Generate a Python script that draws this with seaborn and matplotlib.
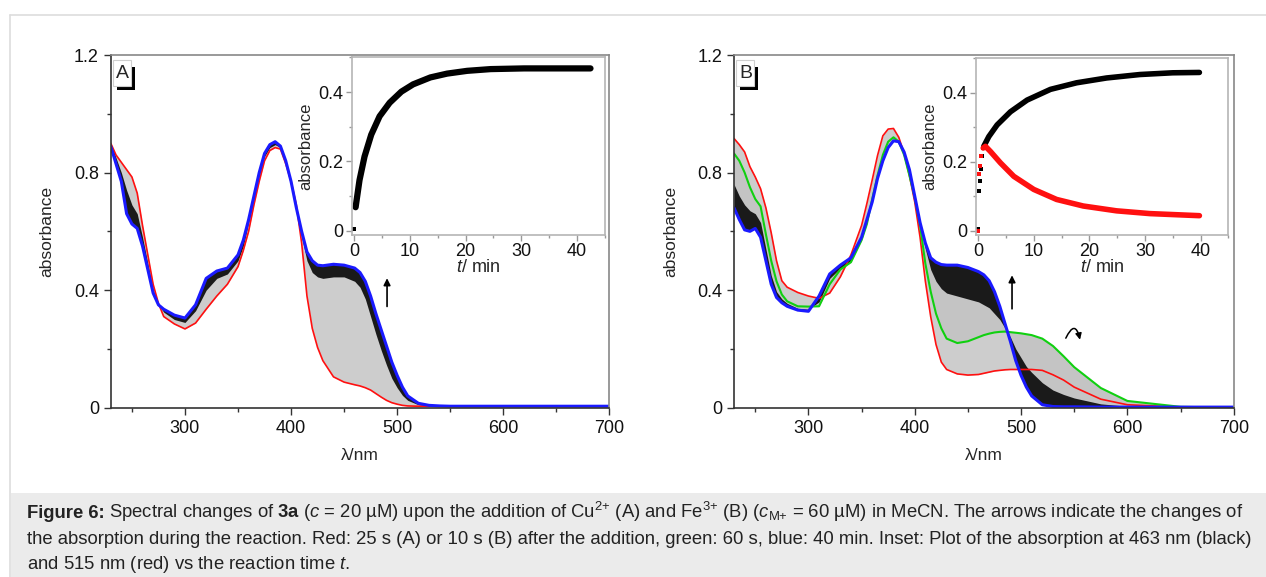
import matplotlib
matplotlib.use("Agg")
import matplotlib.pyplot as plt
from matplotlib.ticker import MultipleLocator, FuncFormatter
from matplotlib.patches import Rectangle
from matplotlib.lines import Line2D
import seaborn as sns

# wavelength grid (nm) shared by all spectra
wl = [230, 235, 240, 245, 250, 255, 260, 265, 270, 275, 280, 290, 300, 310, 320, 330, 340, 350,
      355, 360, 365, 370, 375, 380, 385, 390, 395, 400, 405, 410, 415, 420, 425, 430,
      440, 450, 460, 465, 470, 475, 480, 485, 490, 495, 500, 505, 510,
      520, 530, 540, 550, 575, 600, 650, 700]

# panel A (Cu2+): red = 25 s, blue = 40 min, edge = border of the dense family
red_a = [0.90, 0.86, 0.835, 0.81, 0.785, 0.73, 0.62, 0.52, 0.42, 0.355, 0.31, 0.285, 0.268, 0.288, 0.335, 0.38, 0.42, 0.48,
         0.535, 0.60, 0.69, 0.77, 0.84, 0.875, 0.885, 0.88, 0.83, 0.77, 0.69, 0.56, 0.38, 0.27, 0.205, 0.16,
         0.105, 0.087, 0.078, 0.074, 0.068, 0.06, 0.048, 0.036, 0.025, 0.017, 0.012, 0.008, 0.006,
         0.005, 0.005, 0.005, 0.005, 0.005, 0.005, 0.005, 0.005]
blue_a = [0.89, 0.83, 0.77, 0.66, 0.625, 0.61, 0.55, 0.47, 0.39, 0.35, 0.335, 0.315, 0.305, 0.35, 0.44, 0.465, 0.475, 0.52,
          0.57, 0.64, 0.72, 0.80, 0.865, 0.895, 0.905, 0.89, 0.84, 0.77, 0.68, 0.60, 0.53, 0.50, 0.485, 0.483,
          0.488, 0.485, 0.475, 0.46, 0.43, 0.38, 0.32, 0.265, 0.21, 0.155, 0.11, 0.07, 0.04,
          0.015, 0.008, 0.006, 0.005, 0.005, 0.005, 0.005, 0.005]
edge_a = [0.90, 0.85, 0.80, 0.74, 0.69, 0.66, 0.58, 0.49, 0.40, 0.35, 0.325, 0.30, 0.29, 0.33, 0.40, 0.44, 0.455, 0.50,
          0.55, 0.63, 0.71, 0.79, 0.855, 0.885, 0.895, 0.885, 0.835, 0.77, 0.68, 0.58, 0.50, 0.46, 0.445, 0.44,
          0.445, 0.445, 0.43, 0.41, 0.37, 0.31, 0.25, 0.195, 0.145, 0.10, 0.068, 0.042, 0.025,
          0.01, 0.006, 0.005, 0.005, 0.005, 0.005, 0.005, 0.005]

# panel B (Fe3+): red = 10 s, green = 60 s, blue = 40 min
red_b = [0.916, 0.895, 0.87, 0.82, 0.785, 0.745, 0.68, 0.595, 0.50, 0.432, 0.41, 0.392, 0.38, 0.372, 0.39, 0.445, 0.52, 0.62,
         0.695, 0.775, 0.858, 0.925, 0.948, 0.95, 0.92, 0.865, 0.79, 0.70, 0.58, 0.43, 0.31, 0.215, 0.155, 0.13,
         0.115, 0.111, 0.113, 0.117, 0.121, 0.125, 0.127, 0.129, 0.13, 0.13, 0.13, 0.13, 0.13,
         0.127, 0.112, 0.094, 0.07, 0.029, 0.01, 0.002, 0.0]
green_b = [0.865, 0.84, 0.80, 0.75, 0.71, 0.685, 0.59, 0.50, 0.43, 0.385, 0.362, 0.345, 0.344, 0.345, 0.42, 0.47, 0.495, 0.57,
           0.625, 0.71, 0.79, 0.86, 0.905, 0.92, 0.905, 0.86, 0.79, 0.715, 0.62, 0.49, 0.395, 0.32, 0.27, 0.235,
           0.22, 0.226, 0.24, 0.247, 0.252, 0.256, 0.258, 0.259, 0.257, 0.255, 0.253, 0.25, 0.247,
           0.235, 0.21, 0.175, 0.138, 0.067, 0.023, 0.003, 0.0]
blue_b = [0.68, 0.64, 0.605, 0.60, 0.61, 0.58, 0.50, 0.42, 0.375, 0.357, 0.345, 0.332, 0.328, 0.38, 0.455, 0.485, 0.51, 0.58,
          0.64, 0.70, 0.78, 0.84, 0.885, 0.908, 0.905, 0.87, 0.81, 0.72, 0.63, 0.56, 0.51, 0.495, 0.487, 0.485,
          0.485, 0.477, 0.463, 0.452, 0.432, 0.395, 0.345, 0.285, 0.225, 0.16, 0.11, 0.07, 0.04,
          0.01, 0.004, 0.003, 0.003, 0.002, 0.002, 0.002, 0.002]
edge_b = [0.76, 0.72, 0.69, 0.67, 0.66, 0.63, 0.54, 0.45, 0.395, 0.37, 0.355, 0.338, 0.335, 0.36, 0.44, 0.475, 0.50, 0.575,
          0.635, 0.705, 0.785, 0.85, 0.895, 0.912, 0.905, 0.865, 0.80, 0.715, 0.625, 0.54, 0.47, 0.43, 0.405, 0.39,
          0.38, 0.37, 0.36, 0.35, 0.34, 0.32, 0.30, 0.27, 0.24, 0.20, 0.17, 0.14, 0.12,
          0.085, 0.06, 0.045, 0.033, 0.013, 0.005, 0.002, 0.002]

# insets: absorbance vs time (min)
t_a = [0.0, 0.3, 1.0, 1.9, 3.1, 4.6, 6.4, 8.5, 10.6, 13.7, 16.7, 20.3, 24.5, 30.5, 36.5, 42.4]
abs463_a = [0.005, 0.068, 0.146, 0.214, 0.277, 0.33, 0.369, 0.401, 0.422, 0.442, 0.453, 0.461, 0.466, 0.468, 0.468, 0.468]

t_b = [0.0, 0.18, 0.36, 0.54, 0.72, 1.0, 1.9, 3.4, 5.8, 8.8, 13.0, 17.7, 23.1, 29.1, 35.0, 39.8]
abs463_b = [0.005, 0.115, 0.144, 0.18, 0.216, 0.245, 0.273, 0.307, 0.345, 0.379, 0.41, 0.429, 0.443, 0.453, 0.458, 0.459]
t_b_red = [0.0, 0.18, 0.36, 0.54, 0.9, 1.3, 2.2, 4.0, 6.4, 10.0, 14.1, 18.9, 24.9, 30.9, 36.8, 39.8]
abs515_b = [0.0, 0.166, 0.189, 0.216, 0.24, 0.245, 0.23, 0.197, 0.158, 0.12, 0.091, 0.072, 0.058, 0.05, 0.046, 0.044]

sns.set_style("ticks")
plt.rcParams['font.family'] = ['Liberation Sans', 'DejaVu Sans']
plt.rcParams['mathtext.fontset'] = 'custom'
plt.rcParams['mathtext.rm'] = 'Liberation Sans'
plt.rcParams['mathtext.it'] = 'Liberation Sans:italic'
plt.rcParams['mathtext.bf'] = 'Liberation Sans:bold'

W, H = 1266, 577
fig = plt.figure(figsize=(W / 100, H / 100), dpi=100)


def px(x0, y0, x1, y1):
    # pixel box (from top-left) -> figure fraction rect
    return [x0 / W, 1 - y1 / H, (x1 - x0) / W, (y1 - y0) / H]


# page frame and caption box
fig.add_artist(Line2D([10 / W, 10 / W], [0, 1 - 15 / H], transform=fig.transFigure, color='#dddddd', lw=1.2))
fig.add_artist(Line2D([10 / W, 1], [1 - 15 / H, 1 - 15 / H], transform=fig.transFigure, color='#dddddd', lw=1.2))
fig.add_artist(Rectangle((11 / W, 0), 1, 1 - 493 / H, transform=fig.transFigure, color='#ebebeb', lw=0))


def fmt(v, pos):
    return '0' if abs(v) < 1e-9 else f'{v:.1f}'


def panel_letter(x0, label):
    r = px(x0 + 4, 67, x0 + 22, 89.5)
    fig.add_artist(Rectangle((r[0], r[1]), r[2], r[3], transform=fig.transFigure, fc='black', ec='none', zorder=10))
    r = px(x0, 60, x0 + 18, 85.5)
    fig.add_artist(Rectangle((r[0], r[1]), r[2], r[3], transform=fig.transFigure, fc='white', ec='#cfcfcf',
                             lw=0.8, zorder=11))
    fig.text((x0 + 9.5) / W, 1 - 73 / H, label, fontsize=14, ha='center', va='center', zorder=12)


def main_axes(rect, red, blue, edge, label, green=None):
    ax = fig.add_axes(rect)
    ax.fill_between(wl, red, blue, color='#cdcdcd', lw=0)
    if green is not None:
        ax.fill_between(wl, green, blue, color='#c4c4c4', lw=0)
    ax.fill_between(wl, edge, blue, color='#1a1a1a', lw=0)
    sns.lineplot(x=wl, y=red, ax=ax, color='#ff1010', lw=1.2, estimator=None, sort=False)
    if green is not None:
        sns.lineplot(x=wl, y=green, ax=ax, color='#10d010', lw=1.5, estimator=None, sort=False)
    sns.lineplot(x=wl, y=blue, ax=ax, color='#1a1aff', lw=2.2, estimator=None, sort=False)
    ax.set_xlim(230, 700)
    ax.set_ylim(0, 1.2)
    ax.set_xticks([300, 400, 500, 600, 700])
    ax.set_yticks([0, 0.4, 0.8, 1.2])
    ax.xaxis.set_minor_locator(MultipleLocator(50))
    ax.yaxis.set_minor_locator(MultipleLocator(0.2))
    ax.yaxis.set_major_formatter(FuncFormatter(fmt))
    ax.tick_params(which='major', length=5, width=1, colors='#333333', labelsize=13, labelcolor='#111111')
    ax.tick_params(which='minor', length=3, width=1, colors='#333333')
    for s in ['left', 'bottom']:
        ax.spines[s].set_color('#333333')
    for s in ['top', 'right']:
        ax.spines[s].set_color('#888888')
    for s in ax.spines.values():
        s.set_linewidth(1.2)
    ax.set_xlabel('λ/nm', fontsize=12.5, labelpad=8)
    ax.set_ylabel('absorbance', fontsize=12.5, labelpad=14)
    panel_letter(rect[0] * W + 2.3, label)
    return ax


def inset_axes(rect):
    ax = fig.add_axes(rect)
    ax.set_facecolor('white')
    ax.set_xlim(-0.4, 45)
    ax.set_ylim(-0.012, 0.5)
    ax.set_xticks([0, 10, 20, 30, 40])
    ax.set_yticks([0, 0.2, 0.4])
    ax.xaxis.set_minor_locator(MultipleLocator(5))
    ax.yaxis.set_minor_locator(MultipleLocator(0.1))
    ax.yaxis.set_major_formatter(FuncFormatter(fmt))
    ax.tick_params(which='major', length=4, width=1, colors='#999999', labelsize=13, labelcolor='#111111', pad=2)
    ax.tick_params(which='minor', length=2.5, width=1, colors='#999999')
    for s in ax.spines.values():
        s.set_color('#b5b5b5')
        s.set_linewidth(1.2)
    ax.set_xlabel('$t$/ min', fontsize=13, labelpad=-1)
    ax.set_ylabel('absorbance', fontsize=12, labelpad=4)
    return ax


ax_a = main_axes(px(110.7, 55, 609.3, 407.7), red_a, blue_a, edge_a, 'A')
ax_a.annotate('', xy=(490.5, 0.45), xytext=(490.5, 0.335),
              arrowprops=dict(arrowstyle='-|>', color='black', lw=1.2, mutation_scale=10))

ax_b = main_axes(px(734, 55, 1233.7, 407.7), red_b, blue_b, edge_b, 'B', green=green_b)
ax_b.annotate('', xy=(491.5, 0.46), xytext=(491.5, 0.327),
              arrowprops=dict(arrowstyle='-|>', color='black', lw=1.2, mutation_scale=10))
ax_b.annotate('', xy=(556, 0.222), xytext=(541, 0.228),
              arrowprops=dict(arrowstyle='-|>', color='black', lw=1.1, mutation_scale=9,
                              connectionstyle='arc3,rad=-1.6'))

ins_a = inset_axes(px(351.7, 57.3, 605, 235))
sns.lineplot(x=t_a[1:], y=abs463_a[1:], ax=ins_a, color='black', lw=4.5, estimator=None, sort=False)
sns.scatterplot(x=t_a[:1], y=abs463_a[:1], ax=ins_a, color='black', marker='s', s=12, lw=0)

ins_b = inset_axes(px(976, 58.3, 1228.3, 235))
sns.lineplot(x=t_b[5:], y=abs463_b[5:], ax=ins_b, color='black', lw=4, estimator=None, sort=False)
sns.scatterplot(x=t_b[:6], y=abs463_b[:6], ax=ins_b, color='black', marker='s', s=12, lw=0)
sns.lineplot(x=t_b_red[4:], y=abs515_b[4:], ax=ins_b, color='#ff1010', lw=4, estimator=None, sort=False)
sns.scatterplot(x=t_b_red[:5], y=abs515_b[:5], ax=ins_b, color='#ff1010', marker='s', s=12, lw=0)

# caption
fs = 13.35
head = fig.text(27 / W, 1 - 518 / H, 'Figure 6:', fontsize=fs, fontweight='bold', ha='left', va='baseline',
                color='#222222')
fig.canvas.draw()
x_after = head.get_window_extent().x1 + 4.5
cap = [
    (x_after, r"Spectral changes of $\mathbf{3a}$ ($c$ = 20 µM) upon the addition of Cu$^{2{+}}$ (A) "
              r"and Fe$^{3{+}}$ (B) ($c_{\mathrm{M{+}}}$ = 60 µM) in MeCN. The arrows indicate the changes of"),
    (27, "the absorption during the reaction. Red: 25 s (A) or 10 s (B) after the addition, green: 60 s, "
         "blue: 40 min. Inset: Plot of the absorption at 463 nm (black)"),
    (27, r"and 515 nm (red) vs the reaction time $t$."),
]
for i, (x, line) in enumerate(cap):
    fig.text(x / W, 1 - (518 + 25.5 * i) / H, line, fontsize=fs, ha='left', va='baseline', color='#222222')

fig.savefig('out.png', dpi=100)
